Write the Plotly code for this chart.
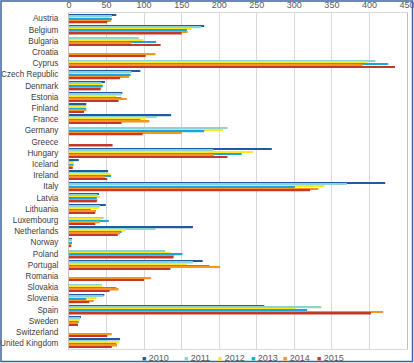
import plotly.graph_objects as go

countries = ["Austria", "Belgium", "Bulgaria", "Croatia", "Cyprus", "Czech Republic", "Denmark",
             "Estonia", "Finland", "France", "Germany", "Greece", "Hungary", "Iceland", "Ireland",
             "Italy", "Latvia", "Lithuania", "Luxembourg", "Netherlands", "Norway", "Poland",
             "Portugal", "Romania", "Slovakia", "Slovenia", "Spain", "Sweden", "Switzerland",
             "United Kingdom"]

years = ["2010", "2011", "2012", "2013", "2014", "2015"]

v2010 = [63, 180, None, None, None, 95, 48, 71, 23, 136, None, None, 270, 13, 52, 421, 40, 49, None, 165, 4, None, 178, None, None, 47, 260, 16, None, 68]
v2011 = [57, 176, 93, None, 408, 83, 43, 70, 23, 117, 211, None, 192, 6, 48, 370, 38, 41, 46, 115, 4, 128, 165, None, 44, 46, 336, 15, None, 52]
v2012 = [54, 163, 99, None, 397, 80, 45, 63, 23, 102, 205, None, 245, 6, 55, 340, 41, 40, 43, 75, 4, 135, 157, None, 44, 37, 302, 14, None, 67]
v2013 = [57, 157, 116, None, 425, 82, 45, 70, 23, 95, 180, None, 230, 6, 56, 301, 37, 29, 53, 70, 4, 151, 187, None, 63, 23, 317, 13, None, 63]
v2014 = [56, 158, 83, 115, 391, 80, 43, 77, 23, 107, 150, None, 193, 5, 48, 332, 38, 36, 41, 68, 3, 140, 201, 109, 66, 33, 418, 12, 57, 64]
v2015 = [51, 150, 122, 102, 434, 68, 42, 66, 20, 70, 98, 58, 211, 5, 51, 321, 37, 35, 35, 65, 3, 139, 135, 100, 54, 27, 402, 12, 51, 57]

series = [v2010, v2011, v2012, v2013, v2014, v2015]
colors = ["#1F5C9E", "#8ED3D3", "#FFE81F", "#1AA6DA", "#F7941D", "#C0392B"]

x_ticks = [0, 50, 100, 150, 200, 250, 300, 350, 400, 450]

fig = go.Figure()
for name, vals, col in zip(years, series, colors):
    fig.add_trace(go.Bar(y=countries, x=vals, name=name, orientation="h",
                         marker=dict(color=col, line=dict(width=0)), showlegend=False))

# plot area geometry (pixels) for the frame / legend placement
L, R, T, B = 69, 7, 13, 14
W, H = 414, 363
pw, ph = W - L - R, H - T - B

def px_x(x):
    return (x - L) / pw

def px_y(y):
    return (H - B - y) / ph

fig.update_layout(
    width=W, height=H,
    margin=dict(l=L, r=R, t=T, b=B, pad=0),
    paper_bgcolor="white", plot_bgcolor="white",
    barmode="group", bargap=0.18, bargroupgap=0,
    font=dict(family="Liberation Sans", size=9, color="#404040"),
    xaxis=dict(side="top", range=[0, 450], tickvals=x_ticks, showgrid=True,
               gridcolor="#D9D9D9", gridwidth=1, zeroline=False, showline=True,
               linecolor="#D9D9D9", mirror=True, ticks="", automargin=False,
               ticklabeloverflow="allow",
               tickfont=dict(size=9, color="#595959")),
    yaxis=dict(autorange="reversed", showgrid=False, zeroline=False, showline=True,
               linecolor="#BFBFBF", mirror=True, ticks="", automargin=False,
               ticklabelstandoff=8, tickfont=dict(size=8.2, color="#404040")),
)

# outer frame
fig.add_shape(type="rect", xref="paper", yref="paper",
              x0=px_x(1), x1=px_x(412.5), y0=px_y(361.5), y1=px_y(1),
              line=dict(color="#3F63A0", width=1.5), fillcolor="rgba(0,0,0,0)", layer="above")

# legend drawn as text items
leg_x = [140, 182, 216, 249, 281, 315]
for name, col, lx in zip(years, colors, leg_x):
    fig.add_annotation(xref="paper", yref="paper", x=px_x(lx), y=px_y(358),
                       xanchor="left", yanchor="middle", showarrow=False,
                       text=f'<span style="color:{col};font-size:7px">■</span> {name}',
                       font=dict(size=9, color="#595959"))

fig.write_html("out.html", config={"displayModeBar": False},
               post_script="document.body.style.margin='0';document.body.style.overflow='hidden';")
